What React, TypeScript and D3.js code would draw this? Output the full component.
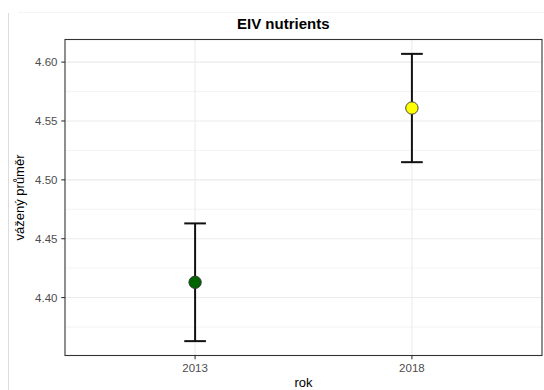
import React from "react";
import * as d3 from "d3";

// Weighted mean of EIV nutrients per survey year, with interval bounds
const years = ["2013", "2018"];
const means = [4.413, 4.561];
const lower = [4.363, 4.515];
const upper = [4.463, 4.607];
const fills = ["#006400", "#FFFF00"];
const yTicks = [4.4, 4.45, 4.5, 4.55, 4.6];
const yMinor = [4.375, 4.425, 4.475, 4.525, 4.575];

const W = 544;
const H = 390;
const panel = { left: 65, right: 542, top: 39.5, bottom: 355.5 };
const FONT = "'Liberation Sans', Arial, Helvetica, sans-serif";

export default function App() {
  // ggplot-style 5% expansion on continuous y
  const lo = d3.min(lower)!;
  const hi = d3.max(upper)!;
  const pad = (hi - lo) * 0.05;
  const y = d3
    .scaleLinear()
    .domain([lo - pad, hi + pad])
    .range([panel.bottom, panel.top]);

  // discrete x with 0.6 unit expansion each side
  const xIdx = d3
    .scaleLinear()
    .domain([0.4, years.length + 0.6])
    .range([panel.left, panel.right]);
  const x = (i: number) => xIdx(i + 1);
  const capHalf = (xIdx(1.05) - xIdx(0.95)) / 2;

  const cx = (panel.left + panel.right) / 2;
  const cy = (panel.top + panel.bottom) / 2;

  return (
    <svg
      width={W}
      height={H}
      style={{ position: "absolute", left: 0, top: 0, background: "#fff" }}
      fontFamily={FONT}
    >
      {/* outer frame */}
      <line x1={8.5} x2={8.5} y1={13} y2={H} stroke="#dcdcdc" strokeWidth={1} />
      <line x1={18} x2={W} y1={12.5} y2={12.5} stroke="#f4f4f4" strokeWidth={1} />

      <text x={237} y={28.5} fontSize={15} fontWeight="bold" fill="#000">
        EIV nutrients
      </text>

      {/* panel grid */}
      {yMinor.map((v) => (
        <line key={"mn" + v} x1={panel.left} x2={panel.right} y1={y(v)} y2={y(v)} stroke="#EBEBEB" strokeWidth={0.6} />
      ))}
      {yTicks.map((v) => (
        <line key={"mj" + v} x1={panel.left} x2={panel.right} y1={y(v)} y2={y(v)} stroke="#EBEBEB" strokeWidth={1.1} />
      ))}
      {years.map((yr, i) => (
        <line key={"vx" + yr} x1={x(i)} x2={x(i)} y1={panel.top} y2={panel.bottom} stroke="#EBEBEB" strokeWidth={1.1} />
      ))}

      {/* error bars */}
      {years.map((yr, i) => (
        <g key={"eb" + yr} stroke="#111" strokeWidth={2}>
          <line x1={x(i)} x2={x(i)} y1={y(lower[i])} y2={y(upper[i])} />
          <line x1={x(i) - capHalf} x2={x(i) + capHalf} y1={y(upper[i])} y2={y(upper[i])} />
          <line x1={x(i) - capHalf} x2={x(i) + capHalf} y1={y(lower[i])} y2={y(lower[i])} />
        </g>
      ))}

      {/* means */}
      {years.map((yr, i) => (
        <circle key={"pt" + yr} cx={x(i)} cy={y(means[i])} r={6.2} fill={fills[i]} stroke="#333" strokeWidth={0.9} />
      ))}

      {/* panel border */}
      <rect
        x={panel.left}
        y={panel.top}
        width={panel.right - panel.left}
        height={panel.bottom - panel.top}
        fill="none"
        stroke="#333"
        strokeWidth={1.1}
      />

      {/* y axis */}
      {yTicks.map((v) => (
        <g key={"yt" + v}>
          <line x1={panel.left - 3.7} x2={panel.left} y1={y(v)} y2={y(v)} stroke="#333" strokeWidth={1.1} />
          <text x={57.5} y={y(v)} dy="0.36em" textAnchor="end" fontSize={11.5} fill="#4D4D4D">
            {d3.format(".2f")(v)}
          </text>
        </g>
      ))}

      {/* x axis */}
      {years.map((yr, i) => (
        <g key={"xt" + yr}>
          <line x1={x(i)} x2={x(i)} y1={panel.bottom} y2={panel.bottom + 3.7} stroke="#333" strokeWidth={1.1} />
          <text x={x(i)} y={371.7} textAnchor="middle" fontSize={11.5} fill="#4D4D4D">
            {yr}
          </text>
        </g>
      ))}

      <text x={cx} y={386.5} textAnchor="middle" fontSize={13} fill="#000">
        rok
      </text>
      <text
        transform={`translate(24,${cy}) rotate(-90)`}
        textAnchor="middle"
        fontSize={13}
        fill="#000"
      >
        vážený průměr
      </text>
    </svg>
  );
}
